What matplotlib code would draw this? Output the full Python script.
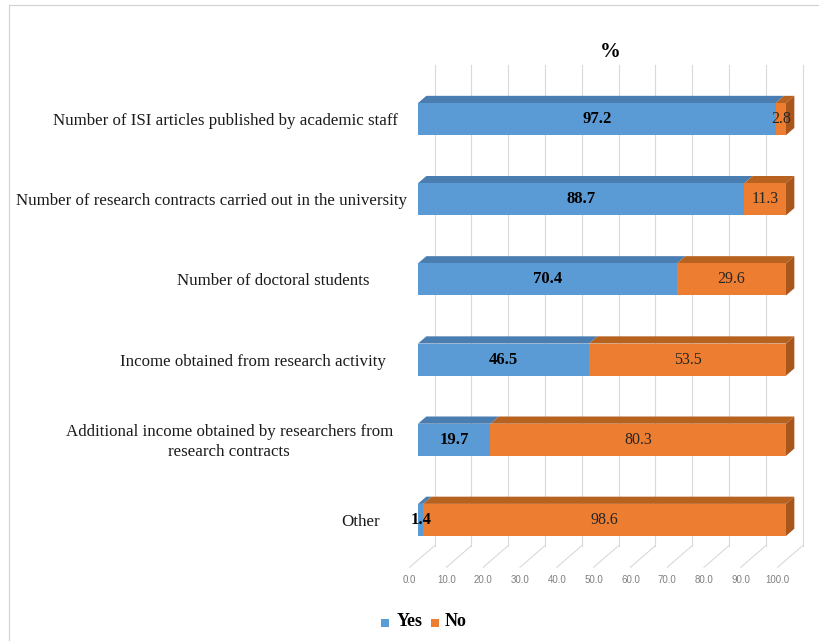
import matplotlib.pyplot as plt
from matplotlib.patches import Polygon, Rectangle

# survey answers, top row first
categories = [
    'Number of ISI articles published by academic staff',
    'Number of research contracts carried out in the university',
    'Number of doctoral students',
    'Income obtained from research activity',
    'Additional income obtained by researchers from\nresearch contracts',
    'Other',
]
yes_pct = [97.2, 88.7, 70.4, 46.5, 19.7, 1.4]
no_pct = [2.8, 11.3, 29.6, 53.5, 80.3, 98.6]
ticks = [0, 10, 20, 30, 40, 50, 60, 70, 80, 90, 100]

# label right edges in pixels (figure coords), one per row
label_right = [398, 407, 370, 386, 393, 380]

W, H = 819, 641
SERIF = 'Liberation Serif'
BLUE, BLUE_TOP = '#5B9BD5', '#4A7DB0'
ORANGE, ORANGE_TOP, ORANGE_SIDE = '#ED7D31', '#B8621F', '#A9561C'
GRID = '#D9D9D9'

fig = plt.figure(figsize=(W / 100, H / 100), dpi=100)
fig.patches.append(Rectangle((9 / W, -0.1), 1.2, 1 - 5 / H + 0.1, transform=fig.transFigure,
                             fill=False, edgecolor='#D0D0D0', lw=0.8))

ax = fig.add_axes([418 / W, 1 - 560 / H, 368 / W, 481 / H])
ax.set_xlim(0, 100)
ax.set_ylim(-0.5, 5.5)
ax.axis('off')

n = len(categories)
ypos = [n - 1 - i for i in range(n)]
bh = 0.4
DX, DY = 6.8, 0.27          # full floor depth in data units
bdx, bdy = DX / 3, DY / 3   # bar depth
wdx, wdy = 2 * DX / 3, 2 * DY / 3  # back wall offset from bar front

# back wall gridlines and floor lines
for t in ticks:
    ax.plot([t + wdx, t + wdx], [-0.5 + wdy, 5.5 + wdy], color=GRID, lw=0.8, clip_on=False, zorder=1)
    ax.plot([t + wdx, t - DX / 3], [-0.5 + wdy, -0.5 - DY / 3], color=GRID, lw=0.8, clip_on=False, zorder=1)
    ax.text(t - DX / 3, -0.69, f'{t:.1f}', ha='center', va='top', fontsize=7,
            family='Liberation Sans', color='#7F7F7F')

for y, yv, nv in zip(ypos, yes_pct, no_pct):
    top = y + bh / 2
    segs = [(0, yv, BLUE, BLUE_TOP), (yv, yv + nv, ORANGE, ORANGE_TOP)]
    for x0, x1, c, ctop in segs:
        ax.add_patch(Polygon([(x0, top), (x1, top), (x1 + bdx, top + bdy), (x0 + bdx, top + bdy)],
                             closed=True, facecolor=ctop, edgecolor='none', clip_on=False, zorder=3))
    end = yv + nv
    ax.add_patch(Polygon([(end, y - bh / 2), (end, top), (end + bdx, top + bdy), (end + bdx, y - bh / 2 + bdy)],
                         closed=True, facecolor=ORANGE_SIDE, edgecolor='none', clip_on=False, zorder=3))

ax.barh(ypos, yes_pct, height=bh, color=BLUE, zorder=4, clip_on=False)
ax.barh(ypos, no_pct, left=yes_pct, height=bh, color=ORANGE, zorder=4, clip_on=False)

for y, yv, nv in zip(ypos, yes_pct, no_pct):
    ax.text(yv / 2, y, f'{yv:.1f}', ha='center', va='center', fontsize=12,
            family=SERIF, fontweight='bold', color='black', zorder=6)
    ax.text(yv + nv / 2, y, f'{nv:.1f}', ha='center', va='center', fontsize=11.5,
            family=SERIF, color='#262626', zorder=5)

for y, lab, rx in zip(ypos, categories, label_right):
    ax.annotate(lab, xy=(0, y), xycoords=('axes fraction', 'data'),
                xytext=(rx - 418, -2), textcoords='offset pixels',
                ha='right', va='center', multialignment='center', linespacing=1.3,
                fontsize=12.2, family=SERIF, color='#1A1A1A')

fig.text(610 / W, 1 - 52 / H, '%', ha='center', va='center', fontsize=15,
         family=SERIF, fontweight='bold')

# legend
fig.patches.append(Rectangle((381 / W, 1 - 627 / H), 8 / W, 8 / H, transform=fig.transFigure,
                             facecolor=BLUE, edgecolor='none'))
fig.text(397 / W, 1 - 622 / H, 'Yes', ha='left', va='center', fontsize=13,
         family=SERIF, fontweight='bold')
fig.patches.append(Rectangle((431 / W, 1 - 627 / H), 8 / W, 8 / H, transform=fig.transFigure,
                             facecolor=ORANGE, edgecolor='none'))
fig.text(445 / W, 1 - 622 / H, 'No', ha='left', va='center', fontsize=13,
         family=SERIF, fontweight='bold')

fig.savefig('out.png', dpi=100)
